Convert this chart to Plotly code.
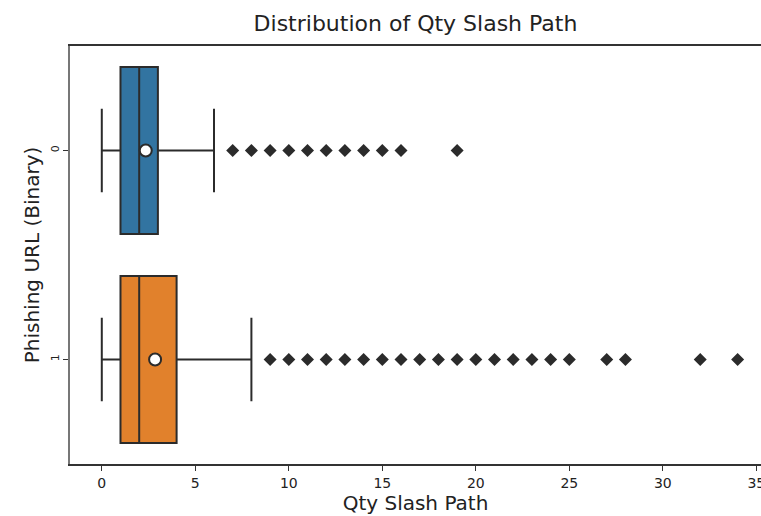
import plotly.graph_objects as go

categories = [0, 1]
category_labels = ["0", "1"]
q1 = [1, 1]
median = [2, 2]
q3 = [3, 4]
lower_whisker = [0, 0]
upper_whisker = [6, 8]
means = [2.35, 2.85]
outliers_0 = [7, 8, 9, 10, 11, 12, 13, 14, 15, 16, 19]
outliers_1 = [9, 10, 11, 12, 13, 14, 15, 16, 17, 18, 19, 20, 21, 22, 23, 24, 25, 27, 28, 32, 34]
outliers = [outliers_0, outliers_1]
colors = ["#3274a1", "#e1812c"]
x_ticks = [0, 5, 10, 15, 20, 25, 30, 35]

EDGE = "#2b2b2b"
FONT = "DejaVu Sans"

fig = go.Figure()
for i, cat in enumerate(categories):
    fig.add_trace(go.Box(
        y=[cat], q1=[q1[i]], median=[median[i]], q3=[q3[i]],
        lowerfence=[lower_whisker[i]], upperfence=[upper_whisker[i]],
        orientation="h", fillcolor=colors[i],
        line=dict(color=EDGE, width=2), width=0.8, whiskerwidth=0.5,
        boxpoints=False, showlegend=False, hoverinfo="skip",
    ))
    fig.add_trace(go.Scatter(
        x=outliers[i], y=[cat] * len(outliers[i]), mode="markers",
        marker=dict(symbol="diamond", size=10, color=EDGE, line=dict(width=0)),
        showlegend=False, hoverinfo="skip",
    ))
    fig.add_trace(go.Scatter(
        x=[means[i]], y=[cat], mode="markers",
        marker=dict(symbol="circle", size=12, color="white", line=dict(color=EDGE, width=2)),
        showlegend=False, hoverinfo="skip",
    ))

fig.update_layout(
    width=761, height=516,
    margin=dict(l=70, r=0, t=46, b=52),
    plot_bgcolor="white", paper_bgcolor="white",
    font=dict(family=FONT, color="#222"),
    title=dict(text="Distribution of Qty Slash Path", x=0.5, xanchor="center",
               xref="paper", y=1 - 23 / 516, yanchor="middle",
               font=dict(size=22, family=FONT, color="#222")),
)
fig.update_xaxes(
    range=[-1.7, 35.25], tickvals=x_ticks, ticktext=[str(t) for t in x_ticks],
    ticklabeloverflow="allow", automargin=False,
    showgrid=False, zeroline=False, showline=True, linecolor="#333", linewidth=1.5,
    mirror=True, ticks="outside", ticklen=5, tickcolor="#333",
    tickfont=dict(size=14, family=FONT, color="#222"),
    title=dict(text="Qty Slash Path", font=dict(size=20, family=FONT, color="#222"), standoff=4),
)
fig.update_yaxes(
    range=[1.5, -0.5], tickvals=categories, ticktext=category_labels, tickangle=-90,
    automargin=False,
    showgrid=False, zeroline=False, showline=True, linecolor="#777", linewidth=1.5,
    mirror=False, ticks="outside", ticklen=5, tickcolor="#333",
    tickfont=dict(size=11, family=FONT, color="#222"),
    title=dict(text="Phishing URL (Binary)", font=dict(size=20, family=FONT, color="#222"), standoff=4),
)

fig.write_html("out.html")
